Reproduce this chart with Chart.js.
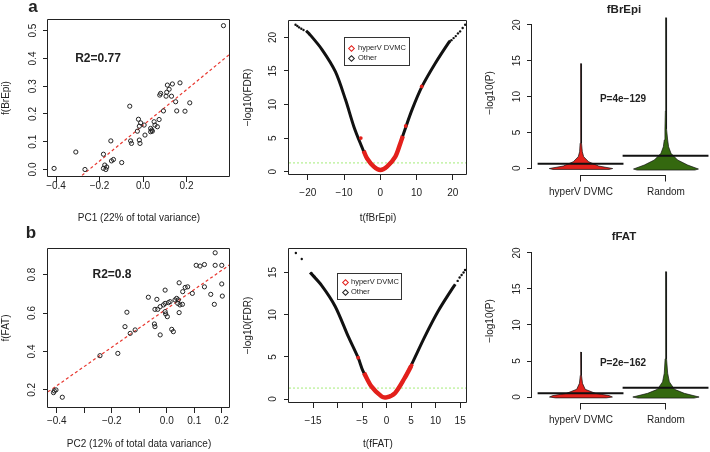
<!DOCTYPE html>
<html>
<head>
<meta charset="utf-8">
<script src="https://cdn.jsdelivr.net/npm/chart.js@4.4.1/dist/chart.umd.min.js"></script>
<style>
  html, body { margin: 0; padding: 0; background: #fff; }
  #page { position: relative; width: 710px; height: 452px; overflow: hidden; font-family: "Liberation Sans", Arial, sans-serif; color: #222; }
  canvas { position: absolute; }
  .lbl { position: absolute; transform: translate(-50%, -50%); white-space: nowrap; font-weight: bold; }
  .legend { position: absolute; box-sizing: border-box; border: 1px solid #333; background: #fff; font-size: 7.5px; }
  .legend .item { position: absolute; height: 10px; line-height: 10px; white-space: nowrap; }
  .legend .dia { position: absolute; width: 3px; height: 3px; border: 1px solid #222; transform: rotate(45deg); }
</style>
</head>
<body>
<div id="page">
  <canvas id="scatterA" width="235" height="226" style="left:0;top:0"></canvas>
  <canvas id="volcanoA" width="240" height="226" style="left:235px;top:0"></canvas>
  <canvas id="beanA" width="240" height="226" style="left:470px;top:0"></canvas>
  <canvas id="scatterB" width="235" height="226" style="left:0;top:226px"></canvas>
  <canvas id="volcanoB" width="240" height="226" style="left:235px;top:226px"></canvas>
  <canvas id="beanB" width="240" height="226" style="left:470px;top:226px"></canvas>

  <div class="lbl" style="left:33px;top:7px;font-size:17px">a</div>
  <div class="lbl" style="left:31px;top:233px;font-size:17px">b</div>
  <div class="lbl" style="left:98px;top:58px;font-size:12px">R2=0.77</div>
  <div class="lbl" style="left:112px;top:274px;font-size:12px">R2=0.8</div>
  <div class="lbl" style="left:624px;top:9px;font-size:11.5px">fBrEpi</div>
  <div class="lbl" style="left:624px;top:236px;font-size:11.5px">fFAT</div>
  <div class="lbl" style="left:623px;top:98px;font-size:10px">P=4e−129</div>
  <div class="lbl" style="left:623px;top:362px;font-size:10px">P=2e−162</div>

  <div class="legend" style="left:344px;top:37px;width:66px;height:29px">
    <span class="dia" style="left:4px;top:8px;border-color:#e3201b"></span>
    <div class="item" style="left:13px;top:5px">hyperV DVMC</div>
    <span class="dia" style="left:4px;top:18px"></span>
    <div class="item" style="left:13px;top:15px">Other</div>
  </div>
  <div class="legend" style="left:337px;top:273px;width:65px;height:27px">
    <span class="dia" style="left:5px;top:6px;border-color:#e3201b"></span>
    <div class="item" style="left:13px;top:3px">hyperV DVMC</div>
    <span class="dia" style="left:5px;top:16px"></span>
    <div class="item" style="left:13px;top:13px">Other</div>
  </div>
</div>

<script>
const FONT = "'Liberation Sans', Arial, sans-serif";
const INK = "#222";
const RED = "#e3201b";
const GREEN = "#34680f";

Chart.defaults.font.family = FONT;
Chart.defaults.font.size = 10;
Chart.defaults.color = INK;

// panel a, left: PC1 vs f(BrEpi)
const pc1 = [-0.409, -0.309, -0.267, -0.182, -0.176, -0.182, -0.171, -0.167, -0.148, -0.145,
  -0.136, -0.098, -0.061, -0.057, -0.053, -0.026, -0.021, -0.017, -0.017, -0.014,
  -0.011, 0.005, 0.009, 0.035, 0.04, 0.043, 0.035, 0.051, 0.055, 0.066,
  0.074, 0.094, 0.077, 0.081, 0.106, 0.109, 0.112, 0.12, 0.131, 0.135,
  0.15, 0.155, 0.17, 0.193, 0.215, 0.37];
const fBrEpi = [0.004, 0.063, 0.0, 0.055, 0.016, 0.004, 0.0, 0.009, 0.103, 0.031,
  0.036, 0.025, 0.228, 0.103, 0.094, 0.138, 0.181, 0.156, 0.106, 0.094,
  0.168, 0.16, 0.124, 0.148, 0.142, 0.138, 0.136, 0.172, 0.16, 0.154,
  0.18, 0.211, 0.268, 0.274, 0.264, 0.278, 0.304, 0.289, 0.264, 0.308,
  0.244, 0.211, 0.312, 0.21, 0.24, 0.518];
const fitBrEpi = [0.159, 0.642]; // intercept, slope
const pc1Ticks = [-0.4, -0.2, 0, 0.2];
const pc1Labels = ["−0.4", "−0.2", "0.0", "0.2"];
const fBrEpiTicks = [0, 0.1, 0.2, 0.3, 0.4, 0.5];
const fBrEpiLabels = ["0.0", "0.1", "0.2", "0.3", "0.4", "0.5"];

// panel b, left: PC2 vs f(FAT)
const pc2 = [-0.412, -0.409, -0.403, -0.38, -0.243, -0.178, -0.152, -0.145, -0.133, -0.115,
  -0.067, -0.045, -0.043, -0.036, -0.006, 0.045, -0.043, -0.033, -0.024, -0.012,
  -0.006, 0.006, 0.012, 0.03, 0.036, 0.042, 0.04, 0.048, 0.057, -0.006,
  -0.004, 0.002, 0.018, 0.024, -0.024, 0.045, 0.058, 0.067, 0.076, 0.093,
  0.137, 0.16, 0.173, 0.2, 0.202, 0.107, 0.121, 0.137, 0.176, 0.176, 0.2];
const fFAT = [0.186, 0.195, 0.2, 0.162, 0.378, 0.39, 0.529, 0.604, 0.494, 0.512,
  0.682, 0.543, 0.529, 0.671, 0.719, 0.757, 0.619, 0.619, 0.633, 0.642,
  0.65, 0.654, 0.659, 0.668, 0.676, 0.668, 0.65, 0.642, 0.645, 0.607,
  0.595, 0.581, 0.515, 0.503, 0.486, 0.602, 0.711, 0.733, 0.736, 0.702,
  0.736, 0.697, 0.645, 0.751, 0.688, 0.848, 0.844, 0.852, 0.913, 0.848, 0.848];
const fitFAT = [0.622, 1.0];
const pc2Ticks = [-0.4, -0.3, -0.2, -0.1, 0, 0.1, 0.2];
const pc2Labels = ["−0.4", "", "−0.2", "", "0.0", "0.1", "0.2"];
const fFATTicks = [0.2, 0.4, 0.6, 0.8];
const fFATLabels = ["0.2", "0.4", "0.6", "0.8"];

// volcano curves, read along the point cloud
const fdrCut = 0.05;
const tBrEpi = [-20.5, -19.7, -16.1, -12.4, -9.6, -7.3, -5.5, -3.7, -1.8, 0, 1.84, 4.13, 6.43, 8.72, 11.5, 15.2, 18.8, 19.3];
const fdrBrEpi = [21.0, 20.6, 18.2, 14.9, 10.7, 6.7, 4.2, 2.0, 0.75, 0.25, 0.75, 2.24, 5.73, 9.2, 12.7, 16.2, 19.2, 19.5];
const tBrEpiTail = [-23.4, -22.9, -22.4, -21.8, -21.2, 19.6, 20.2, 20.8, 21.4, 22.0, 22.7, 23.4];
const fdrBrEpiTail = [21.9, 21.7, 21.5, 21.3, 21.1, 19.6, 19.9, 20.2, 20.6, 20.9, 21.4, 21.9];
const tBrEpiHyper = [-4.6, -3.7, -1.8, 0, 1.84, 4.13, 5.5, 6.2];
const fdrBrEpiHyper = [3.1, 2.0, 0.75, 0.25, 0.75, 2.24, 4.2, 5.3];
const tBrEpiHyperPts = [-5.4, 7.0, 11.4];
const fdrBrEpiHyperPts = [5.0, 6.8, 12.7];
const tBrEpiTicks = [-20, -10, 0, 10, 20];
const tBrEpiLabels = ["−20", "−10", "0", "10", "20"];
const fdrBrEpiTicks = [0, 5, 10, 15, 20];

const tFAT = [-15.6, -13.3, -10.5, -7.8, -5.8, -4.8, -3.1, -1.0, 0, 1.7, 3.7, 5.1, 7.8, 10.5, 13.3, 14.0];
const fdrFAT = [15.0, 13.5, 11.0, 7.4, 4.9, 3.3, 1.5, 0.3, 0.2, 0.7, 2.5, 4.1, 7.4, 10.4, 13.0, 13.6];
const tFATTail = [-18.5, -17.3, -15.3, -15.0, -14.7, 14.5, 14.9, 15.3, 15.7, 16.0];
const fdrFATTail = [17.3, 16.6, 14.9, 14.7, 14.5, 14.0, 14.4, 14.7, 15.0, 15.3];
const tFATHyper = [-4.6, -3.1, -1.0, 0, 1.7, 3.7, 5.0];
const fdrFATHyper = [3.1, 1.5, 0.3, 0.2, 0.7, 2.5, 3.9];
const tFATHyperPts = [-5.8, 5.1];
const fdrFATHyperPts = [4.9, 4.0];
const tFATTicks = [-15, -10, -5, 0, 5, 10, 15];
const tFATLabels = ["−15", "", "−5", "0", "5", "10", "15"];
const fdrFATTicks = [0, 5, 10, 15];

// bean plots: density levels (-log10 P) and half widths
const beanNames = ["hyperV DVMC", "Random"];
const pTicks = [0, 5, 10, 15, 20];
const brEpiHyperLevels = [-0.15, -0.03, 0.32, 0.92, 1.62, 2.3, 3.5, 6, 10, 14.6];
const brEpiHyperWidths = [0.33, 0.373, 0.208, 0.09, 0.032, 0.016, 0.01, 0.006, 0.004, 0.001];
const brEpiRandomLevels = [-0.24, -0.1, 0.46, 1.16, 2.09, 3.0, 3.95, 5.5, 8, 12, 16, 21.0];
const brEpiRandomWidths = [0.34, 0.382, 0.255, 0.137, 0.059, 0.031, 0.02, 0.012, 0.007, 0.005, 0.003, 0.001];
const brEpiMedians = [0.65, 1.76];
const fatHyperLevels = [-0.12, 0.0, 0.2, 0.51, 1.07, 1.9, 3.0, 4.5, 6.25];
const fatHyperWidths = [0.3, 0.37, 0.33, 0.17, 0.05, 0.018, 0.008, 0.005, 0.001];
const fatRandomLevels = [-0.15, 0.0, 0.51, 1.07, 2.1, 3.3, 5.3, 8, 12, 17.4];
const fatRandomWidths = [0.33, 0.39, 0.216, 0.1, 0.04, 0.02, 0.01, 0.006, 0.004, 0.001];
const fatMedians = [0.51, 1.3];

// draws the R-style box, or axis lines running first tick to last tick
const rFrame = {
  id: "rFrame",
  afterDatasetsDraw(chart, args, opts) {
    const { ctx, chartArea: a, scales } = chart;
    ctx.save();
    ctx.strokeStyle = INK;
    ctx.lineWidth = 1;
    ctx.beginPath();
    if (opts.box) {
      const l = Math.round(a.left) - 0.5, r = Math.round(a.right) - 0.5;
      const t = Math.round(a.top) + 0.5, b = Math.round(a.bottom) - 0.5;
      ctx.rect(l, t, r - l, b - t);
    } else {
      const xs = scales.x, ys = scales.y;
      const lx = Math.round(a.left) - 0.5;
      ctx.moveTo(lx, ys.getPixelForValue(ys.ticks[0].value));
      ctx.lineTo(lx, ys.getPixelForValue(ys.ticks[ys.ticks.length - 1].value));
      const by = Math.round(a.bottom) + 0.5;
      ctx.moveTo(xs.getPixelForValue(xs.ticks[0].value), by);
      ctx.lineTo(xs.getPixelForValue(xs.ticks[xs.ticks.length - 1].value), by);
    }
    ctx.stroke();
    ctx.restore();
  },
};

function pairs(xs, ys) {
  return xs.map((x, i) => ({ x, y: ys[i] }));
}

function beanOutline(center, levels, widths) {
  const left = levels.map((v, i) => ({ x: center - widths[i], y: v }));
  const right = levels.map((v, i) => ({ x: center + widths[i], y: v })).reverse();
  return left.concat(right, [left[0]]);
}

function axisX(o) {
  return {
    type: "linear",
    min: o.min,
    max: o.max,
    border: { display: false },
    grid: { drawOnChartArea: false, tickLength: o.tickLen || 5, tickColor: INK },
    ticks: {
      autoSkip: false, minRotation: 0, maxRotation: 0, padding: o.pad,
      color: INK, font: { size: 10 },
      callback: (v, i) => o.labels[i],
    },
    afterBuildTicks: (s) => { s.ticks = o.ticks.map((v) => ({ value: v })); },
    afterFit: (s) => { s.height = o.size; },
    title: {
      display: !!o.title, text: o.title, color: INK, font: { size: 10 },
      padding: { top: 0, bottom: o.titlePad || 0 },
    },
  };
}

function axisY(o) {
  return {
    type: "linear",
    min: o.min,
    max: o.max,
    border: { display: false },
    grid: { drawOnChartArea: false, tickLength: 5, tickColor: INK },
    ticks: {
      autoSkip: false, minRotation: 90, maxRotation: 90, crossAlign: "center",
      padding: o.pad, color: INK, font: { size: 10 },
      callback: (v, i) => o.labels[i],
    },
    afterBuildTicks: (s) => { s.ticks = o.ticks.map((v) => ({ value: v })); },
    afterFit: (s) => { s.width = o.size; },
    title: {
      display: true, text: o.title, color: INK, font: { size: 10 },
      padding: { top: o.titlePad || 0, bottom: 0 },
    },
  };
}

function baseOptions(g, x, y, frame) {
  return {
    responsive: false,
    animation: false,
    devicePixelRatio: 1,
    events: [],
    layout: { padding: { left: 0, top: g.top, right: g.right, bottom: 0 } },
    plugins: { legend: { display: false }, tooltip: { enabled: false }, rFrame: frame },
    scales: { x, y },
  };
}

function renderScatter(id, g, xs, ys, fit, xAx, yAx) {
  const ends = [xAx.min, xAx.max];
  new Chart(document.getElementById(id), {
    type: "scatter",
    data: {
      datasets: [
        {
          data: pairs(xs, ys),
          pointStyle: "circle", pointRadius: 2.1, pointBorderWidth: 1,
          pointBorderColor: INK, pointBackgroundColor: "rgba(0,0,0,0)",
          order: 1,
        },
        {
          data: ends.map((x) => ({ x, y: fit[0] + fit[1] * x })),
          showLine: true, borderColor: "#e8372f", borderWidth: 1.2,
          borderDash: [3, 2.5], pointRadius: 0, order: 2,
        },
      ],
    },
    options: baseOptions(g, axisX(xAx), axisY(yAx), { box: true }),
    plugins: [rFrame],
  });
}

function renderVolcano(id, g, c, xAx, yAx) {
  const cut = -Math.log10(fdrCut);
  new Chart(document.getElementById(id), {
    type: "scatter",
    data: {
      datasets: [
        {
          data: pairs(c.hyperPtsT, c.hyperPtsY),
          pointRadius: 1.9, pointBorderWidth: 0,
          pointBackgroundColor: RED, pointBorderColor: RED, order: 1,
        },
        {
          data: pairs(c.hyperT, c.hyperY),
          showLine: true, tension: 0.3, borderColor: RED, borderWidth: 4.4,
          pointRadius: 0, order: 2,
        },
        {
          data: [{ x: xAx.min, y: cut }, { x: xAx.max, y: cut }],
          showLine: true, borderColor: "#a4ec78", borderWidth: 1,
          borderDash: [2, 2], pointRadius: 0, order: 3,
        },
        {
          data: pairs(c.tailT, c.tailY),
          pointRadius: 1.2, pointBorderWidth: 0,
          pointBackgroundColor: "#111", pointBorderColor: "#111", order: 4,
        },
        {
          data: pairs(c.t, c.y),
          showLine: true, tension: 0.3, borderColor: "#111", borderWidth: 3,
          pointRadius: 0, order: 5,
        },
      ],
    },
    options: baseOptions(g, axisX(xAx), axisY(yAx), { box: true }),
    plugins: [rFrame],
  });
}

function renderBeans(id, g, beans, medians, xAx, yAx) {
  const datasets = [];
  beans.forEach((b, i) => {
    const pos = i + 1;
    datasets.push({
      data: [{ x: pos - 0.51, y: medians[i] }, { x: pos + 0.5, y: medians[i] }],
      showLine: true, borderColor: "#111", borderWidth: 2, pointRadius: 0, order: 1,
    });
    datasets.push({
      data: beanOutline(pos, b.levels, b.widths),
      showLine: true, fill: "shape", backgroundColor: b.color,
      borderColor: "#111", borderWidth: 0.7, pointRadius: 0, order: 2,
    });
  });
  new Chart(document.getElementById(id), {
    type: "scatter",
    data: { datasets },
    options: baseOptions(g, axisX(xAx), axisY(yAx), { box: false }),
    plugins: [rFrame],
  });
}

renderScatter("scatterA", { top: 19, right: 5 }, pc1, fBrEpi, fitBrEpi,
  { min: -0.437, max: 0.4, ticks: pc1Ticks, labels: pc1Labels, size: 49, pad: -2,
    title: "PC1 (22% of total variance)", titlePad: 2 },
  { min: -0.027, max: 0.542, ticks: fBrEpiTicks, labels: fBrEpiLabels, size: 48, pad: 3,
    title: "f(BrEpi)", titlePad: 0 });

renderScatter("scatterB", { top: 22, right: 5 }, pc2, fFAT, fitFAT,
  { min: -0.432, max: 0.23, ticks: pc2Ticks, labels: pc2Labels, size: 44, pad: 2,
    title: "PC2 (12% of total data variance)", titlePad: 2 },
  { min: 0.106, max: 0.938, ticks: fFATTicks, labels: fFATLabels, size: 48, pad: 3.5,
    title: "f(FAT)", titlePad: 0 });

renderVolcano("volcanoA", { top: 20, right: 8 },
  { t: tBrEpi, y: fdrBrEpi, tailT: tBrEpiTail, tailY: fdrBrEpiTail,
    hyperT: tBrEpiHyper, hyperY: fdrBrEpiHyper, hyperPtsT: tBrEpiHyperPts, hyperPtsY: fdrBrEpiHyperPts },
  { min: -25.2, max: 23.9, ticks: tBrEpiTicks, labels: tBrEpiLabels, size: 51, pad: 7,
    title: "t(fBrEpi)", titlePad: 2 },
  { min: -0.5, max: 22.6, ticks: fdrBrEpiTicks, labels: fdrBrEpiTicks.map(String), size: 54, pad: 5,
    title: "−log10(FDR)", titlePad: 7 });

renderVolcano("volcanoB", { top: 22, right: 8 },
  { t: tFAT, y: fdrFAT, tailT: tFATTail, tailY: fdrFATTail,
    hyperT: tFATHyper, hyperY: fdrFATHyper, hyperPtsT: tFATHyperPts, hyperPtsY: fdrFATHyperPts },
  { min: -19.9, max: 16.4, ticks: tFATTicks, labels: tFATLabels, size: 49, pad: 7,
    title: "t(fFAT)", titlePad: 2 },
  { min: -0.47, max: 17.9, ticks: fdrFATTicks, labels: fdrFATTicks.map(String), size: 54, pad: 5,
    title: "−log10(FDR)", titlePad: 7 });

renderBeans("beanA", { top: 11, right: 0 },
  [{ levels: brEpiHyperLevels, widths: brEpiHyperWidths, color: RED },
   { levels: brEpiRandomLevels, widths: brEpiRandomWidths, color: GREEN }],
  brEpiMedians,
  { min: 0.424, max: 2.518, ticks: [1, 2], labels: beanNames, size: 51, tickLen: 6.5, pad: 5 },
  { min: -0.93, max: 21.94, ticks: pTicks, labels: pTicks.map(String), size: 62, pad: 4.5,
    title: "−log10(P)", titlePad: 14.7 });

renderBeans("beanB", { top: 13, right: 0 },
  [{ levels: fatHyperLevels, widths: fatHyperWidths, color: RED },
   { levels: fatRandomLevels, widths: fatRandomWidths, color: GREEN }],
  fatMedians,
  { min: 0.424, max: 2.518, ticks: [1, 2], labels: beanNames, size: 49, tickLen: 6.5, pad: 5 },
  { min: -0.83, max: 21.94, ticks: pTicks, labels: pTicks.map(String), size: 62, pad: 4.5,
    title: "−log10(P)", titlePad: 14.7 });
</script>
</body>
</html>
